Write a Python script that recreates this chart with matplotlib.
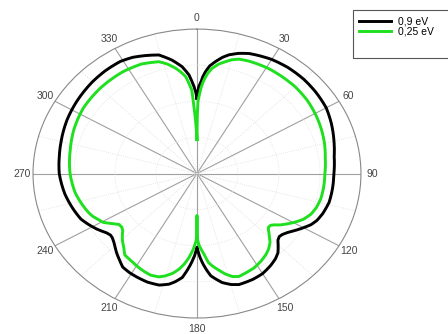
import numpy as np
import matplotlib
matplotlib.use('Agg')
import matplotlib.pyplot as plt
from matplotlib.patches import Rectangle

# angle (deg, clockwise from top) / normalised radius
theta_09 = [0, 0.5, 1, 2.1, 3, 4.3, 6, 8.4, 11, 13.4, 17, 21, 25, 30, 37, 45, 52,
            60, 67, 75, 82, 90, 97, 104, 110, 114, 117, 120, 123, 126, 129, 131,
            133, 135, 138, 141, 145, 150, 155, 161.6, 165, 168.5, 171, 173.2, 175,
            177, 178.5, 180, 181.5, 183.5, 185, 187.1, 190, 192.6, 196.7, 202,
            207, 211, 215, 218, 222, 226, 229, 231, 233, 235, 238, 242, 246, 252,
            260, 270, 278, 285, 295, 304, 315, 322, 329, 334, 339, 344.2, 349,
            353, 355.9, 358.3, 359.3, 360]
r_09 = [0.52, 0.56, 0.60, 0.63, 0.67, 0.71, 0.75, 0.785, 0.82, 0.845, 0.87, 0.89,
        0.90, 0.912, 0.92, 0.922, 0.918, 0.91, 0.89, 0.865, 0.845, 0.835, 0.833,
        0.83, 0.815, 0.80, 0.78, 0.75, 0.72, 0.69, 0.67, 0.665, 0.675, 0.70,
        0.738, 0.76, 0.78, 0.80, 0.808, 0.81, 0.795, 0.77, 0.74, 0.713, 0.67,
        0.617, 0.57, 0.51, 0.57, 0.629, 0.67, 0.725, 0.76, 0.785, 0.806, 0.81,
        0.805, 0.80, 0.79, 0.765, 0.734, 0.70, 0.682, 0.678, 0.685, 0.70, 0.723,
        0.75, 0.775, 0.794, 0.818, 0.84, 0.848, 0.858, 0.875, 0.887, 0.90,
        0.905, 0.906, 0.895, 0.875, 0.853, 0.80, 0.745, 0.685, 0.602, 0.56, 0.52]

theta_025 = [0, 0.3, 0.7, 1.3, 2.5, 3.8, 5.5, 7.3, 10, 12.7, 15, 17.9, 22, 31, 45,
             53, 61, 68, 75, 82, 90, 97, 103, 108, 112, 116, 119, 122, 125, 127,
             128.5, 130, 131.5, 133, 135, 137, 140, 143, 147, 152, 157, 160.2, 163,
             165.9, 168.5, 171.7, 173.5, 175.6, 177, 178.4, 179.5, 180, 180.5,
             182.5, 184.8, 187, 189.4, 192, 195.1, 198, 202, 206, 209, 212, 215,
             218, 221, 225, 229, 231, 233.5, 236, 239.5, 242, 245.3, 248, 252, 260,
             270, 282, 292, 303, 315, 327.5, 336, 343.3, 346.5, 349.9, 352, 354.1,
             356.8, 357.7, 358.5, 359.3, 360]
r_025 = [0.235, 0.40, 0.50, 0.533, 0.60, 0.65, 0.70, 0.735, 0.77, 0.794, 0.815,
         0.832, 0.84, 0.848, 0.848, 0.842, 0.83, 0.818, 0.805, 0.79, 0.78, 0.778,
         0.775, 0.765, 0.75, 0.722, 0.69, 0.655, 0.62, 0.59, 0.575, 0.572, 0.58,
         0.60, 0.625, 0.653, 0.68, 0.70, 0.72, 0.74, 0.75, 0.757, 0.746, 0.718,
         0.685, 0.646, 0.62, 0.56, 0.53, 0.50, 0.46, 0.29, 0.46, 0.525, 0.583,
         0.63, 0.671, 0.705, 0.733, 0.752, 0.758, 0.749, 0.74, 0.73, 0.722, 0.715,
         0.68, 0.644, 0.60, 0.59, 0.592, 0.62, 0.665, 0.68, 0.703, 0.715, 0.729,
         0.755, 0.774, 0.79, 0.81, 0.828, 0.835, 0.837, 0.83, 0.808, 0.78, 0.74,
         0.71, 0.675, 0.58, 0.464, 0.38, 0.30, 0.235]

labels = ['0,9 eV', '0,25 eV']

fig = plt.figure(figsize=(4.48, 3.34), dpi=100)
ax = fig.add_axes([0.0737, 0.0479, 0.732, 0.865], projection='polar')
ax.set_aspect('auto')
ax.set_theta_zero_location('N')
ax.set_theta_direction(-1)

l1, = ax.plot(np.deg2rad(theta_09), r_09, color='black', lw=2.1)
l2, = ax.plot(np.deg2rad(theta_025), r_025, color='#1ee01e', lw=2.1)
# smooth the segments between the read points along the polar arcs
for ln in (l1, l2):
    ln.get_path()._interpolation_steps = 8

ax.set_ylim(0, 1)
ax.set_yticks([0.25, 0.5, 0.75])
ax.set_yticklabels([])
ax.set_xticks(np.deg2rad(np.arange(0, 360, 30)))
ax.set_xticklabels([str(a) for a in range(0, 360, 30)], fontsize=7.5,
                   color='#444444', family='Liberation Sans')
ax.set_xticks(np.deg2rad(np.arange(15, 360, 30)), minor=True)
ax.tick_params(axis='x', pad=-2.5)
ax.xaxis.grid(True, which='major', color='#a0a0a0', lw=0.8, ls='-')
ax.xaxis.grid(True, which='minor', color='#dddddd', lw=0.6, ls=':')
ax.yaxis.grid(True, color='#e0e0e0', lw=0.6, ls=':')
ax.spines['polar'].set_color('#888888')
ax.spines['polar'].set_linewidth(0.8)

# legend box, open at the right edge of the figure
fig.patches.append(Rectangle((353 / 448, 1 - 58 / 334), 0.3, 48 / 334,
                             transform=fig.transFigure, fill=False,
                             ec='#555555', lw=0.8))
fig.legend([l1, l2], labels, loc='upper left',
           bbox_to_anchor=(355 / 448, 1 - 12 / 334), frameon=False,
           handlelength=3.1, labelspacing=0.0,
           handletextpad=0.6, borderaxespad=0,
           prop={'family': 'Liberation Sans', 'size': 7.5})

fig.savefig('out.png', dpi=100)
